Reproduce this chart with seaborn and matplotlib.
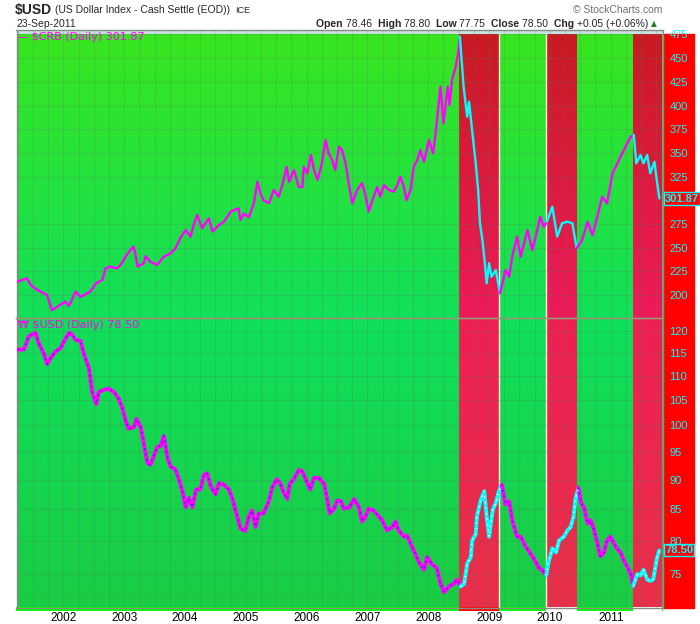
import matplotlib
matplotlib.use("Agg")
import numpy as np
import matplotlib.pyplot as plt
import seaborn as sns
from matplotlib.patches import Rectangle
from matplotlib.ticker import FixedLocator, NullLocator, FuncFormatter

# ---- data (decimal years) ----
crb_t = [2001.24, 2001.40, 2001.46, 2001.57, 2001.73, 2001.81, 2001.90, 2002.03, 2002.09, 2002.20,
         2002.28, 2002.44, 2002.53, 2002.64, 2002.69, 2002.77, 2002.88, 2002.94, 2003.02, 2003.10,
         2003.15, 2003.18, 2003.22, 2003.32, 2003.35, 2003.43, 2003.54, 2003.65, 2003.76, 2003.84,
         2003.92, 2004.01, 2004.09, 2004.14, 2004.20, 2004.28, 2004.39, 2004.45, 2004.56, 2004.64,
         2004.75, 2004.88, 2004.91, 2004.97, 2005.05, 2005.13, 2005.19, 2005.24, 2005.29, 2005.38,
         2005.46, 2005.54, 2005.60, 2005.67, 2005.71, 2005.79, 2005.87, 2005.93, 2005.95, 2006.01,
         2006.07, 2006.12, 2006.18, 2006.25, 2006.31, 2006.36, 2006.42, 2006.47, 2006.53, 2006.58,
         2006.64, 2006.69, 2006.75, 2006.83, 2006.91, 2006.96, 2007.02, 2007.10, 2007.16, 2007.21,
         2007.27, 2007.35, 2007.43, 2007.49, 2007.54, 2007.60, 2007.64, 2007.71, 2007.76, 2007.82,
         2007.87, 2007.93, 2008.01, 2008.08, 2008.12, 2008.20, 2008.25, 2008.28, 2008.32, 2008.35,
         2008.39, 2008.45, 2008.49, 2008.52, 2008.58, 2008.64, 2008.67, 2008.72, 2008.78, 2008.82,
         2008.85, 2008.89, 2008.92, 2008.96, 2009.00, 2009.04, 2009.11, 2009.18, 2009.22, 2009.27,
         2009.33, 2009.38, 2009.46, 2009.52, 2009.63, 2009.71, 2009.78, 2009.84, 2009.90, 2009.95,
         2010.04, 2010.12, 2010.20, 2010.29, 2010.37, 2010.44, 2010.53, 2010.62, 2010.70, 2010.78,
         2010.86, 2010.94, 2011.03, 2011.11, 2011.19, 2011.27, 2011.33, 2011.38, 2011.42, 2011.49,
         2011.54, 2011.60, 2011.65, 2011.72, 2011.75, 2011.80]
crb_v = [214.0, 217.6, 210.6, 205.3, 200.0, 184.0, 187.7, 193.0, 188.4, 203.5,
         198.0, 203.5, 212.0, 216.0, 228.0, 230.0, 228.0, 231.7, 240.4, 247.5,
         251.0, 244.0, 230.0, 233.5, 241.0, 235.0, 231.7, 240.4, 244.0, 249.0,
         260.0, 268.6, 261.5, 274.0, 284.5, 270.4, 281.0, 267.0, 274.0, 277.4,
         288.0, 291.5, 279.0, 286.0, 282.0, 296.8, 319.6, 307.0, 300.0, 296.8,
         311.0, 303.8, 316.0, 335.4, 319.6, 332.0, 314.0, 314.0, 335.4, 328.5,
         347.8, 332.0, 321.4, 339.0, 363.6, 349.6, 342.5, 332.0, 356.5, 353.0,
         339.0, 318.0, 296.8, 311.0, 318.0, 307.0, 288.0, 303.8, 314.0, 303.8,
         316.0, 311.0, 309.0, 316.0, 325.0, 314.0, 300.0, 311.0, 335.4, 342.5,
         353.0, 340.7, 363.6, 349.6, 370.7, 420.0, 381.0, 398.8, 420.0, 400.6,
         427.0, 441.0, 455.0, 472.7, 420.0, 388.2, 404.0, 374.0, 339.0, 311.0,
         275.7, 258.0, 240.4, 212.4, 233.5, 219.3, 226.4, 201.8, 212.4, 226.4,
         219.3, 240.4, 261.5, 240.4, 268.6, 247.5, 265.0, 282.7, 272.0, 277.4,
         293.2, 261.5, 275.7, 277.4, 275.7, 249.3, 258.0, 277.4, 263.3, 282.7,
         303.8, 296.8, 328.5, 339.0, 349.6, 360.0, 367.0, 369.0, 339.0, 347.8,
         339.0, 347.8, 328.5, 340.7, 325.0, 301.9]

usd_t = [2001.25, 2001.35, 2001.43, 2001.54, 2001.59, 2001.68, 2001.73, 2001.81, 2001.87, 2001.95,
         2002.01, 2002.09, 2002.14, 2002.20, 2002.28, 2002.33, 2002.42, 2002.47, 2002.54, 2002.58,
         2002.66, 2002.74, 2002.83, 2002.91, 2002.97, 2003.02, 2003.07, 2003.16, 2003.20, 2003.27,
         2003.32, 2003.38, 2003.43, 2003.49, 2003.54, 2003.60, 2003.65, 2003.71, 2003.76, 2003.84,
         2003.90, 2003.96, 2004.01, 2004.06, 2004.12, 2004.18, 2004.25, 2004.31, 2004.36, 2004.42,
         2004.50, 2004.56, 2004.64, 2004.72, 2004.78, 2004.83, 2004.91, 2004.99, 2005.05, 2005.10,
         2005.16, 2005.21, 2005.29, 2005.38, 2005.43, 2005.51, 2005.57, 2005.62, 2005.68, 2005.72,
         2005.79, 2005.87, 2005.93, 2006.01, 2006.06, 2006.12, 2006.20, 2006.29, 2006.34, 2006.38,
         2006.45, 2006.50, 2006.56, 2006.61, 2006.70, 2006.78, 2006.86, 2006.91, 2006.97, 2007.02,
         2007.10, 2007.17, 2007.24, 2007.32, 2007.41, 2007.46, 2007.51, 2007.60, 2007.65, 2007.73,
         2007.79, 2007.84, 2007.93, 2007.98, 2008.06, 2008.14, 2008.20, 2008.26, 2008.34, 2008.42,
         2008.47, 2008.53, 2008.59, 2008.64, 2008.70, 2008.72, 2008.78, 2008.80, 2008.86, 2008.92,
         2008.96, 2009.00, 2009.06, 2009.11, 2009.16, 2009.21, 2009.27, 2009.33, 2009.38, 2009.46,
         2009.52, 2009.60, 2009.66, 2009.74, 2009.82, 2009.87, 2009.94, 2009.98, 2010.04, 2010.10,
         2010.15, 2010.23, 2010.29, 2010.34, 2010.39, 2010.42, 2010.47, 2010.51, 2010.56, 2010.62,
         2010.67, 2010.72, 2010.78, 2010.83, 2010.89, 2010.94, 2011.00, 2011.05, 2011.11, 2011.16,
         2011.22, 2011.27, 2011.33, 2011.37, 2011.44, 2011.49, 2011.54, 2011.60, 2011.65, 2011.70,
         2011.76, 2011.80]
usd_v = [115.7, 115.7, 118.7, 119.5, 117.2, 114.7, 112.5, 114.2, 115.3, 116.0,
         117.6, 119.5, 119.1, 117.9, 117.6, 115.0, 111.5, 106.6, 104.1, 106.6,
         107.0, 107.3, 106.6, 105.2, 103.2, 100.9, 99.3, 99.6, 101.2, 99.6,
         96.5, 93.0, 92.6, 94.3, 95.8, 96.1, 97.9, 93.9, 92.3, 91.8,
         90.0, 87.8, 85.3, 86.9, 85.3, 88.3, 88.3, 90.8, 91.1, 88.9,
         87.5, 89.4, 89.1, 88.3, 86.7, 84.8, 81.9, 81.5, 83.8, 84.8,
         82.1, 84.3, 84.3, 86.4, 88.6, 90.1, 89.2, 87.8, 86.7, 89.2,
         90.1, 91.7, 91.4, 89.4, 88.3, 90.3, 90.3, 89.2, 86.4, 84.3,
         85.1, 86.4, 86.4, 85.1, 85.3, 86.7, 85.3, 83.0, 83.8, 85.1,
         84.8, 84.0, 83.2, 81.6, 82.1, 83.0, 81.6, 80.6, 80.8, 79.1,
         77.9, 76.8, 75.6, 77.5, 76.4, 75.9, 73.6, 72.4, 73.2, 73.6,
         74.2, 73.2, 73.6, 76.5, 77.5, 80.0, 81.0, 83.8, 86.4, 88.0,
         83.8, 80.6, 84.9, 86.0, 88.0, 89.1, 85.8, 86.3, 83.2, 80.6,
         80.6, 79.1, 78.3, 77.2, 75.9, 75.6, 74.8, 76.8, 78.8, 78.2,
         80.0, 80.6, 81.6, 82.1, 83.8, 86.7, 88.6, 86.1, 85.3, 82.7,
         83.2, 81.9, 79.6, 77.6, 78.2, 80.0, 80.6, 79.6, 78.7, 78.2,
         76.9, 76.1, 75.0, 73.3, 75.0, 74.8, 75.6, 74.2, 74.0, 74.2,
         77.3, 78.5]

red_periods = [(2008.51, 2009.17), (2009.93, 2010.44), (2011.36, 2011.86)]
year_ticks = [2002, 2003, 2004, 2005, 2006, 2007, 2008, 2009, 2010, 2011]
crb_ticks = [200, 225, 250, 275, 325, 350, 375, 400, 425, 450, 475]
usd_ticks = [75, 80, 85, 90, 95, 100, 105, 110, 115, 120]

X0, X1 = 2001.227, 2011.852
W, H = 700, 624

sns.set_style("white")
plt.rcParams["font.family"] = ["Liberation Sans", "DejaVu Sans"]


def fx(x):
    return x / W


def fy(y):
    return 1 - y / H


def periods():
    edges = [X0]
    for a, b in red_periods:
        edges += [a, b]
    edges.append(X1)
    return [(edges[i], edges[i + 1], i % 2 == 1) for i in range(len(edges) - 1)]


def is_red(t):
    return any(a <= t < b for a, b in red_periods)


def segments(t):
    segs = []
    start = 0
    for i in range(1, len(t)):
        if is_red(t[i]) != is_red(t[start]):
            segs.append((start, i, is_red(t[start])))
            start = i
    segs.append((start, len(t) - 1, is_red(t[start])))
    return segs


def gradient(c_top, c_bot, n=64):
    a = np.array(matplotlib.colors.to_rgb(c_top))
    b = np.array(matplotlib.colors.to_rgb(c_bot))
    f = np.linspace(0, 1, n)[:, None]
    return (a * (1 - f) + b * f)[:, None, :]


fig = plt.figure(figsize=(W / 100, H / 100), dpi=100)
renderer = fig.canvas.get_renderer()

# red block behind the right axis labels
fig.patches.append(Rectangle((fx(662.5), fy(608)), fx(694) - fx(662.5), fy(34) - fy(608),
                             transform=fig.transFigure, color="#ff0000", zorder=-2))

pos_top = [fx(16.5), fy(318), fx(662.5) - fx(16.5), fy(30) - fy(318)]
pos_bot = [fx(16.5), fy(607.5), fx(662.5) - fx(16.5), fy(318) - fy(607.5)]

colors_top = {False: ("#38e61e", "#12e05a"), True: ("#c81a22", "#ee1a5a")}
colors_bot = {False: ("#10e05a", "#1acc44"), True: ("#ee2052", "#e8304a")}

for pos, cols, bottom in [(pos_top, colors_top, False), (pos_bot, colors_bot, True)]:
    bg = fig.add_axes(pos, zorder=-1)
    for a, b, red in periods():
        bg.imshow(gradient(*cols[red]), extent=[a, b, 0, 1], aspect="auto",
                  interpolation="bilinear")
    for xb in (2009.17, 2009.93):
        bg.axvline(xb, color="#f4f4e0", lw=1.0)
    if bottom:
        for a, b, red in periods():
            if red and a > 2009.5:
                continue
            bg.add_patch(Rectangle((a, -0.012), b - a, 0.012, color="#ff0000" if red else "#00ff00",
                                   clip_on=False, lw=0))
    bg.set_xlim(X0, X1)
    bg.set_ylim(0, 1)
    bg.axis("off")

ax1 = fig.add_axes(pos_top, facecolor="none")
ax2 = fig.add_axes(pos_bot, facecolor="none")

ax1.axhspan(475, 480, color="#c8e2e0", zorder=0.5, lw=0)

# CRB line
for s, e, red in segments(crb_t):
    sns.lineplot(x=crb_t[s:e + 1], y=crb_v[s:e + 1], ax=ax1, color="#00ffff" if red else "#ff00ff",
                 lw=1.7, sort=False, estimator=None, legend=False, zorder=3)

# USD line
ax2.set_yscale("log")
for s, e, red in segments(usd_t):
    main = "#00ffff" if red else "#ff00ff"
    over = "white" if red else "#2020ff"
    sns.lineplot(x=usd_t[s:e + 1], y=usd_v[s:e + 1], ax=ax2, color=main,
                 lw=2.8, sort=False, estimator=None, legend=False, zorder=3)
    sns.lineplot(x=usd_t[s:e + 1], y=usd_v[s:e + 1], ax=ax2, color=over, lw=1.0,
                 linestyle=(0, (1, 3)), sort=False, estimator=None, legend=False, zorder=4)

ax1.set_ylim(175.72, 479.75)
ax2.set_ylim(70.3, 122.97)

quarters = [y + q / 4 for y in range(2001, 2012) for q in range(4)]
for ax, ticks in [(ax1, crb_ticks), (ax2, usd_ticks)]:
    ax.set_xlim(X0, X1)
    ax.xaxis.set_major_locator(FixedLocator(year_ticks))
    ax.xaxis.set_minor_locator(FixedLocator([q for q in quarters if X0 < q < X1]))
    ax.yaxis.tick_right()
    ax.yaxis.set_major_locator(FixedLocator(ticks))
    ax.yaxis.set_minor_locator(NullLocator())
    ax.yaxis.set_major_formatter(FuncFormatter(lambda v, p: f"{v:g}"))
    ax.tick_params(axis="y", colors="#00ffff", labelsize=8, length=0, pad=5)
    ax.grid(which="both", color="#5a7a60", alpha=0.22, lw=0.8)
    ax.set_axisbelow(True)
    ax.set_xlabel("")
    ax.set_ylabel("")
    for sp in ax.spines.values():
        sp.set_color("#8a8a8a")
        sp.set_linewidth(1)

ax1.tick_params(axis="x", length=0, labelbottom=False)
ax2.tick_params(axis="x", which="both", length=0, labelsize=8.5, pad=3, colors="black")
ax2.spines["top"].set_color("#9a9a70")

# current value markers
for ax, val, txt in [(ax1, 301.87, "301.87"), (ax2, 78.5, "78.50")]:
    ax.text(1.004, val, txt, transform=ax.get_yaxis_transform(), color="#00ffff",
            fontsize=8, fontweight="bold", va="center", ha="left",
            bbox=dict(boxstyle="square,pad=0.1", fc="#ff0000", ec="#00ffff", lw=1))

# in-panel legends
fig.text(fx(17), fy(37.5), "\u2014 $CRB (Daily) 301.87", color="#ff00ff", fontsize=8,
         family=["DejaVu Sans"], va="center", ha="left")
fig.text(fx(18), fy(324.5), "\u20a9 $USD (Daily) 78.50", color="#ff00ff", fontsize=8,
         family=["DejaVu Sans"], va="center", ha="left")

# header
t = fig.text(fx(15), fy(10), "$USD", fontsize=10, fontweight="bold", va="center", ha="left")
xc = fx(15) + t.get_window_extent(renderer=renderer).width / W + fx(3)
t = fig.text(xc, fy(10), "(US Dollar Index - Cash Settle (EOD))", fontsize=7.5, va="center", ha="left")
xc += t.get_window_extent(renderer=renderer).width / W + fx(5)
fig.text(xc, fy(10.5), "ICE", fontsize=6.5, va="center", ha="left")
fig.text(fx(16), fy(24), "23-Sep-2011", fontsize=7.5, va="center", ha="left")
fig.text(fx(662), fy(10), "\u00a9 StockCharts.com", fontsize=7.5, color="#707070", va="center", ha="right")

parts = [("Open ", True), ("78.46  ", False), ("High ", True), ("78.80  ", False),
         ("Low ", True), ("77.75  ", False), ("Close ", True), ("78.50  ", False),
         ("Chg ", True), ("+0.05 (+0.06%) ", False)]
texts = []
xcur = 0.0
for txt, bold in parts:
    t = fig.text(xcur, fy(24), txt, fontsize=7.5, fontweight="bold" if bold else "normal",
                 va="center", ha="left")
    texts.append((t, xcur))
    xcur += t.get_window_extent(renderer=renderer).width / W
shift = fx(651) - xcur
for t, x in texts:
    t.set_x(x + shift)
fig.text(fx(651), fy(24), "\u25b2", fontsize=5.5, color="#208020", va="center", ha="left",
         family=["DejaVu Sans"])

fig.savefig("out.png", dpi=100)
